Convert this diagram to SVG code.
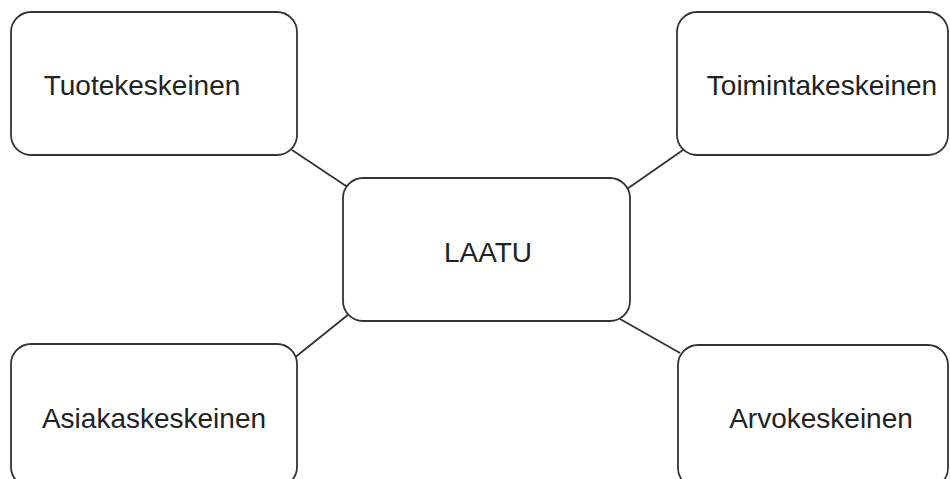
<svg xmlns="http://www.w3.org/2000/svg" width="950" height="479" viewBox="0 0 950 479">
  <style>
    .box { fill: #ffffff; stroke: #333333; stroke-width: 1.8; }
    .link { stroke: #333333; stroke-width: 1.8; fill: none; }
    .label { font-family: "Liberation Sans", Arial, sans-serif; font-size: 28px; fill: #222222; text-anchor: middle; }
  </style>
  <rect width="950" height="479" fill="#ffffff"/>

  <!-- connectors from the centre box to the four corner boxes -->
  <g id="connectors">
    <line class="link" x1="292" y1="150" x2="349" y2="188"/>
    <line class="link" x1="627" y1="189" x2="683" y2="150"/>
    <line class="link" x1="349" y1="314" x2="293" y2="359"/>
    <line class="link" x1="620" y1="319" x2="680" y2="353"/>
  </g>

  <g id="node-tuote">
    <rect class="box" x="11" y="12" width="286" height="143" rx="20"/>
    <text class="label" x="142" y="95">Tuotekeskeinen</text>
  </g>

  <g id="node-toiminta">
    <rect class="box" x="677" y="12" width="271" height="143" rx="20"/>
    <text class="label" x="822" y="95">Toimintakeskeinen</text>
  </g>

  <g id="node-laatu">
    <rect class="box" x="343" y="178" width="287" height="143" rx="20"/>
    <text class="label" x="488" y="262">LAATU</text>
  </g>

  <g id="node-asiakas">
    <rect class="box" x="11" y="344" width="286" height="143" rx="20"/>
    <text class="label" x="154" y="428">Asiakaskeskeinen</text>
  </g>

  <g id="node-arvo">
    <rect class="box" x="678" y="345" width="270" height="143" rx="20"/>
    <text class="label" x="821" y="428">Arvokeskeinen</text>
  </g>
</svg>
